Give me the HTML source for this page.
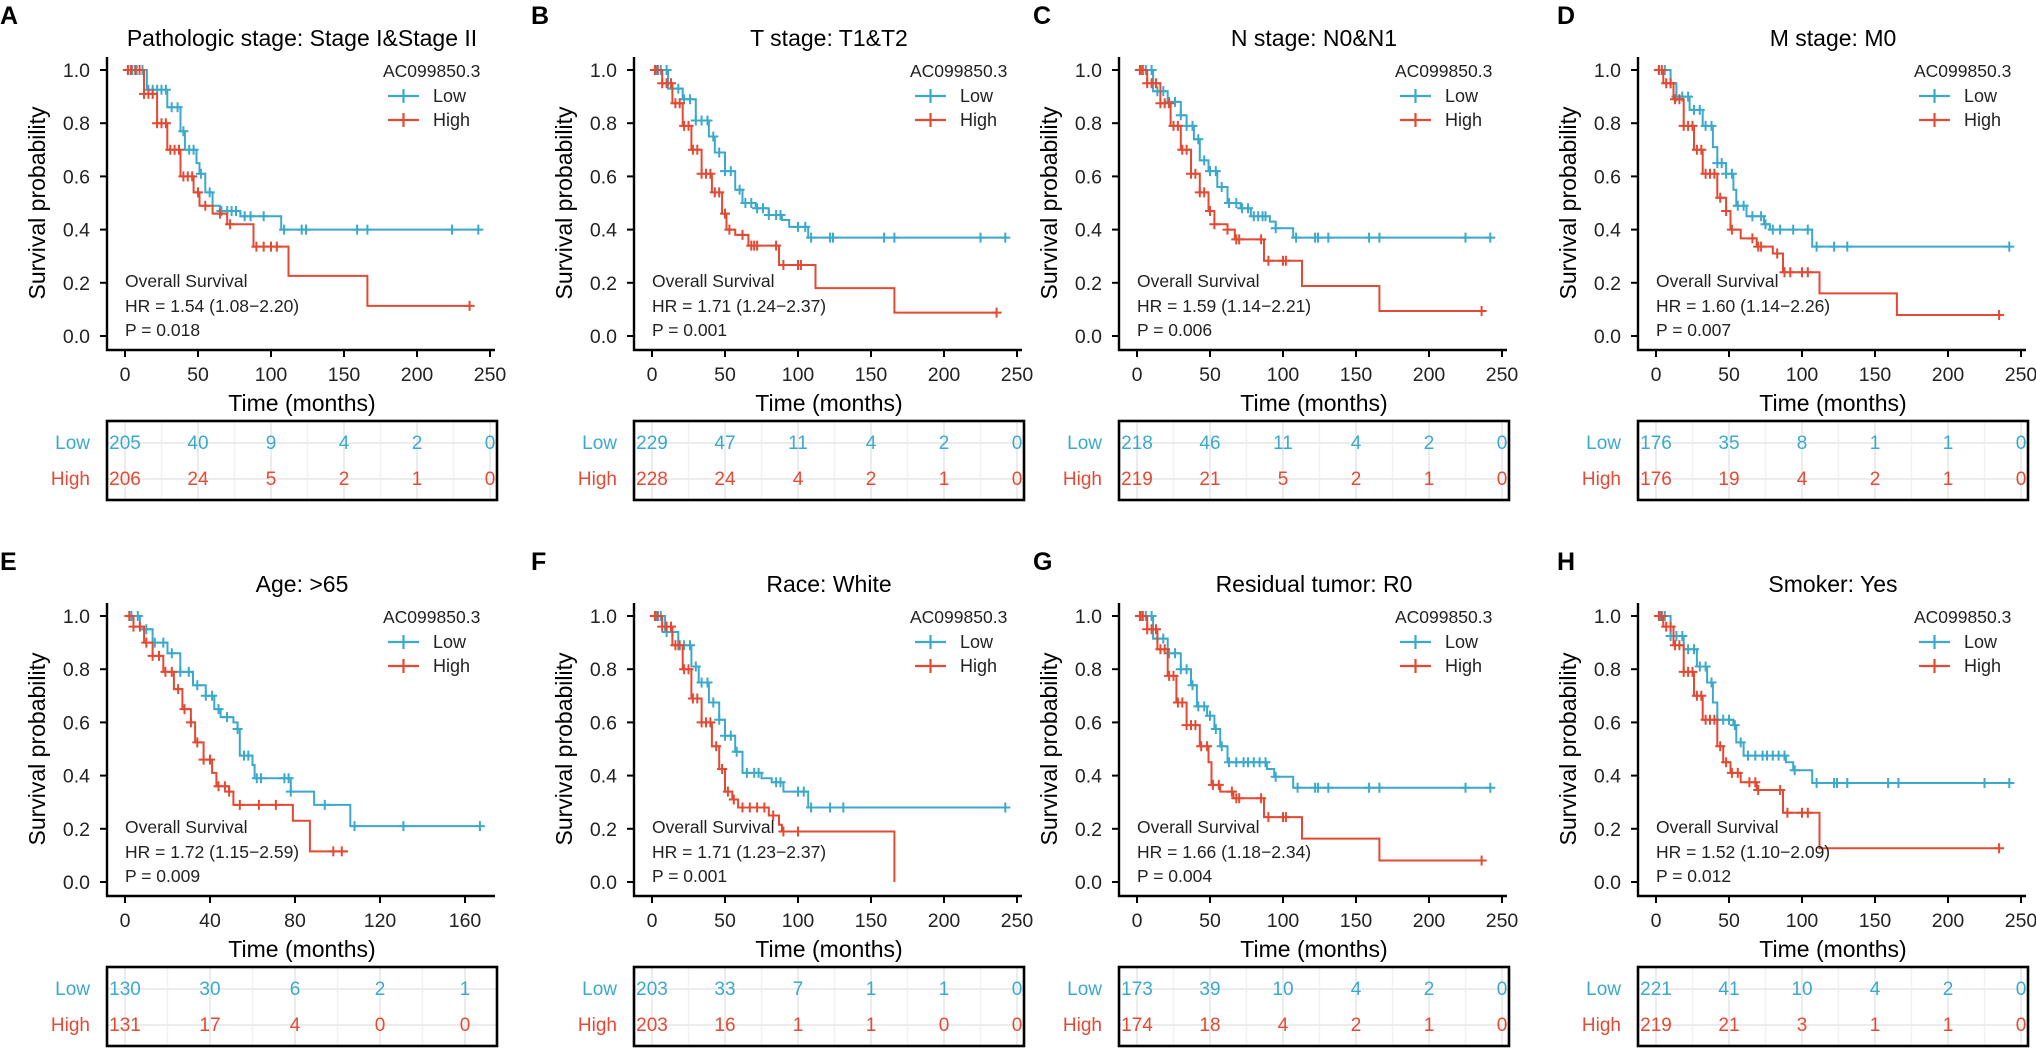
<!DOCTYPE html>
<html><head><meta charset="utf-8"><title>KM panels</title>
<style>
html,body{margin:0;padding:0;background:#fff;}
svg{display:block;font-family:"Liberation Sans",Arial,sans-serif;}
</style></head>
<body>
<svg id="fig" width="2036" height="1059" viewBox="0 0 2036 1059" xmlns="http://www.w3.org/2000/svg"></svg>
<script>
// ---------- data ----------
const panelTitles = ["Pathologic stage: Stage I&Stage II","T stage: T1&T2","N stage: N0&N1","M stage: M0","Age: >65","Race: White","Residual tumor: R0","Smoker: Yes"];
const panelLetters = ["A","B","C","D","E","F","G","H"];
const hrTexts = ["HR = 1.54 (1.08\u22122.20)","HR = 1.71 (1.24\u22122.37)","HR = 1.59 (1.14\u22122.21)","HR = 1.60 (1.14\u22122.26)","HR = 1.72 (1.15\u22122.59)","HR = 1.71 (1.23\u22122.37)","HR = 1.66 (1.18\u22122.34)","HR = 1.52 (1.10\u22122.09)"];
const pTexts = ["P = 0.018","P = 0.001","P = 0.006","P = 0.007","P = 0.009","P = 0.001","P = 0.004","P = 0.012"];
const xMaxes = [250,250,250,250,160,250,250,250];
const xTicksStd = [0,50,100,150,200,250];
const xTicksAge = [0,40,80,120,160];
const yTicks = [0,0.2,0.4,0.6,0.8,1.0];
const yTickLabels = ["0.0","0.2","0.4","0.6","0.8","1.0"];

// step knots [time, survival]
const lowSteps = [
 [[15,0.926],[29,0.86],[38,0.77],[41,0.70],[49,0.65],[51,0.61],[55,0.54],[60,0.49],[65,0.47],[79,0.45],[107,0.40],[243,0.40]],
 [[11,0.93],[21,0.89],[30,0.81],[39,0.75],[43,0.69],[50,0.62],[57,0.55],[62,0.50],[71,0.48],[80,0.455],[89,0.436],[94,0.41],[107,0.37],[243,0.37]],
 [[11,0.92],[21,0.88],[30,0.83],[34,0.79],[39,0.74],[43,0.66],[49,0.62],[55,0.56],[62,0.50],[71,0.48],[78,0.45],[91,0.43],[95,0.405],[107,0.37],[243,0.37]],
 [[10,0.95],[14,0.90],[23,0.85],[32,0.79],[39,0.71],[42,0.65],[48,0.61],[53,0.55],[55,0.49],[62,0.45],[74,0.42],[78,0.40],[107,0.336],[242,0.336]],
 [[7,0.95],[13,0.90],[20,0.86],[26,0.79],[32,0.74],[38,0.70],[42,0.65],[45,0.62],[51,0.60],[53,0.575],[54,0.475],[60,0.44],[61,0.39],[78,0.34],[89,0.29],[106,0.21],[167,0.21]],
 [[9,0.94],[18,0.89],[27,0.81],[32,0.75],[39,0.675],[46,0.61],[50,0.55],[57,0.49],[62,0.41],[75,0.39],[82,0.375],[90,0.34],[107,0.28],[243,0.28]],
 [[11,0.915],[21,0.86],[30,0.80],[37,0.74],[41,0.66],[48,0.625],[53,0.575],[57,0.51],[62,0.45],[89,0.425],[94,0.396],[107,0.354],[243,0.354]],
 [[10,0.925],[19,0.875],[28,0.81],[35,0.75],[39,0.675],[42,0.61],[53,0.59],[55,0.525],[60,0.475],[89,0.45],[94,0.42],[107,0.372],[242,0.372]]
];
const highSteps = [
 [[13,0.91],[22,0.80],[29,0.70],[38,0.60],[47,0.54],[51,0.49],[60,0.46],[70,0.42],[88,0.336],[112,0.226],[166,0.113],[236,0.113]],
 [[7,0.95],[14,0.875],[21,0.79],[27,0.70],[34,0.61],[41,0.54],[48,0.46],[51,0.40],[57,0.38],[66,0.34],[87,0.267],[112,0.18],[166,0.088],[236,0.088]],
 [[7,0.95],[16,0.875],[23,0.79],[30,0.70],[37,0.61],[43,0.54],[49,0.47],[53,0.42],[62,0.40],[67,0.363],[87,0.283],[113,0.188],[166,0.094],[236,0.094]],
 [[5,0.95],[12,0.89],[19,0.79],[26,0.70],[32,0.61],[42,0.52],[48,0.47],[51,0.40],[58,0.367],[69,0.336],[80,0.31],[87,0.24],[112,0.16],[165,0.079],[235,0.079]],
 [[4,0.96],[9,0.90],[13,0.85],[18,0.79],[23,0.725],[27,0.65],[31,0.60],[33,0.525],[37,0.46],[41,0.41],[43,0.36],[49,0.34],[51,0.29],[79,0.23],[87,0.115],[105,0.115]],
 [[7,0.96],[14,0.89],[21,0.80],[27,0.69],[34,0.60],[41,0.51],[46,0.425],[50,0.34],[55,0.31],[59,0.28],[80,0.25],[87,0.215],[89,0.19],[166,0.0]],
 [[7,0.95],[14,0.875],[21,0.775],[27,0.675],[34,0.59],[43,0.51],[49,0.45],[51,0.365],[57,0.34],[66,0.315],[87,0.244],[113,0.163],[166,0.081],[236,0.081]],
 [[5,0.96],[12,0.89],[19,0.79],[26,0.70],[32,0.61],[42,0.51],[46,0.45],[51,0.41],[58,0.375],[69,0.346],[87,0.26],[112,0.127],[235,0.127]]
];
// censor times
const lowCensors = [
 [2,5,8,12,16,19,22,25,28,32,36,40,44,47,52,58,66,70,73,76,82,86,95,109,121,124,159,166,224,242],
 [3,6,10,14,18,22,26,30,34,38,42,46,50,54,60,64,68,72,76,80,85,88,100,105,109,122,124,159,166,225,242],
 [3,6,10,14,18,22,26,30,34,38,42,46,50,54,58,63,68,72,76,80,83,86,88,95,109,122,124,131,159,166,225,242],
 [2,6,10,14,18,22,26,30,34,38,42,45,48,52,56,60,66,72,75,80,85,94,104,110,122,131,242],
 [3,6,10,14,18,22,26,30,34,38,41,44,48,53,56,58,62,64,75,77,78,94,108,131,167],
 [3,6,10,14,18,22,26,30,34,38,42,46,50,54,58,65,70,73,85,88,100,104,109,122,131,242],
 [3,6,10,14,18,22,26,30,34,38,42,46,50,54,58,63,68,73,76,80,84,88,95,110,122,124,131,159,166,225,242],
 [3,6,10,14,18,22,26,30,34,38,42,46,50,54,58,63,68,73,76,80,84,88,95,110,122,124,131,159,166,225,242]
];
const highCensors = [
 [2,4,7,10,13,16,19,22,25,28,31,34,37,40,43,46,50,55,65,72,90,95,100,104,236],
 [2,4,7,10,13,16,19,22,25,28,31,34,37,40,43,46,50,53,62,68,70,72,85,90,100,102,236],
 [2,4,7,10,13,16,19,22,25,28,31,34,37,40,43,46,50,53,62,68,70,85,90,100,102,236],
 [2,4,7,10,13,16,19,22,25,28,31,34,37,40,44,48,52,66,70,72,83,88,92,100,104,235],
 [2,4,7,10,13,16,19,22,25,28,31,34,37,40,44,47,49,54,63,71,98,102],
 [2,4,7,10,13,16,19,22,25,28,31,34,37,40,44,48,52,56,62,67,72,77,83,90,100],
 [2,4,7,10,13,16,19,22,25,28,31,34,37,40,44,48,52,56,65,68,70,85,90,100,102,236],
 [2,4,7,10,13,16,19,22,25,28,31,34,37,40,44,48,52,56,64,68,70,85,90,100,104,235]
];
// numbers at risk
const lowRisk = [[205,40,9,4,2,0],[229,47,11,4,2,0],[218,46,11,4,2,0],[176,35,8,1,1,0],[130,30,6,2,1],[203,33,7,1,1,0],[173,39,10,4,2,0],[221,41,10,4,2,0]];
const highRisk = [[206,24,5,2,1,0],[228,24,4,2,1,0],[219,21,5,2,1,0],[176,19,4,2,1,0],[131,17,4,0,0],[203,16,1,1,0,0],[174,18,4,2,1,0],[219,21,3,1,1,0]];

// ---------- layout ----------
const colX = [107, 634, 1119, 1638];
const rowDY = [0, 546];
const letterX = [0, 531, 1033, 1557];
const LOW = "#3BA9CB", HIGH = "#E34A33";
const NS = "http://www.w3.org/2000/svg";
const svg = document.getElementById("fig");

function mk(tag, attrs, parent, text){
  const e = document.createElementNS(NS, tag);
  for (const k in attrs) e.setAttribute(k, attrs[k]);
  if (text !== undefined) e.textContent = text;
  (parent || svg).appendChild(e);
  return e;
}
function survAt(steps, t){
  let s = 1;
  for (const [tt, ss] of steps){ if (tt <= t) s = ss; else break; }
  return s;
}

for (let p = 0; p < 8; p++){
  const X = colX[p % 4], dy = rowDY[Math.floor(p / 4)];
  const xmax = xMaxes[p];
  const xTicks = xmax === 160 ? xTicksAge : xTicksStd;
  const x0 = X + 18, xw = xmax === 160 ? 340 : 365;
  const xs = t => x0 + t / xmax * xw;
  const ys = s => dy + 336 - s * 266;

  const g = mk("g", {});
  
  

  const L = mk("text", {x: letterX[p % 4], y: dy + 24, "font-size": 25, "font-weight": "bold", fill: "#000"}, g, panelLetters[p]);
  
  

  const T = mk("text", {x: X + 195, y: dy + 46, "font-size": 23, "text-anchor": "middle", fill: "#000"}, g, panelTitles[p]);
  
  

  // axes
  const ax = mk("path", {d: `M${X} ${dy+57} V${dy+350} H${X+388}`, fill: "none", stroke: "#000", "stroke-width": 2.4}, g);
  
  
  yTicks.forEach((v, i) => {
    mk("line", {x1: X - 7, x2: X, y1: ys(v), y2: ys(v), stroke: "#000", "stroke-width": 2}, g);
    const tl = mk("text", {x: X - 17, y: ys(v) + 7, "font-size": 19.5, "text-anchor": "end", fill: "#222"}, g, yTickLabels[i]);
    
    
  });
  xTicks.forEach(v => {
    mk("line", {x1: xs(v), x2: xs(v), y1: dy + 350, y2: dy + 357, stroke: "#000", "stroke-width": 2}, g);
    const tl = mk("text", {x: xs(v), y: dy + 381, "font-size": 19.5, "text-anchor": "middle", fill: "#222"}, g, String(v));
    
    
  });
  const xt = mk("text", {x: X + 195, y: dy + 411, "font-size": 23, "text-anchor": "middle", fill: "#000"}, g, "Time (months)");
  
  
  const yt = mk("text", {x: 0, y: 0, "font-size": 23, "text-anchor": "middle", fill: "#000", transform: `translate(${X - 62},${dy + 203}) rotate(-90)`}, g, "Survival probability");
  
  

  // curves
  [[lowSteps[p], lowCensors[p], LOW, 'low'], [highSteps[p], highCensors[p], HIGH, 'high']].forEach(([steps, cens, col, nm]) => {
    let d = `M${xs(0)} ${ys(1)}`;
    steps.forEach(([t, s]) => { d += ` H${xs(t).toFixed(1)} V${ys(s).toFixed(1)}`; });
    const path = mk("path", {d, fill: "none", stroke: col, "stroke-width": 2}, g);
    
    
    let cd = "";
    cens.forEach(t => {
      const cx = xs(t), cy = ys(survAt(steps, t));
      cd += `M${(cx-5).toFixed(1)} ${cy.toFixed(1)} h10 M${cx.toFixed(1)} ${(cy-5).toFixed(1)} v10 `;
    });
    const cp = mk("path", {d: cd, fill: "none", stroke: col, "stroke-width": 2}, g);
    
    
  });

  // legend
  const lg = mk("g", {}, g);
  
  
  mk("text", {x: X + 276, y: dy + 77, "font-size": 17.5, fill: "#222"}, lg, "AC099850.3");
  [[LOW, "Low", 96], [HIGH, "High", 120]].forEach(([c, lab, yy]) => {
    const ent = mk("g", {}, lg);
    
    
    mk("path", {d: `M${X+281} ${dy+yy} h31 M${X+296.5} ${dy+yy-7} v14`, stroke: c, "stroke-width": 2.2, fill: "none"}, ent);
    mk("text", {x: X + 326, y: dy + yy + 6, "font-size": 18, fill: "#222"}, ent, lab);
  });

  // annotation
  const an = mk("g", {"font-size": 17.5, fill: "#222"}, g);
  
  
  mk("text", {x: X + 18, y: dy + 287}, an, "Overall Survival");
  mk("text", {x: X + 18, y: dy + 312}, an, hrTexts[p]);
  mk("text", {x: X + 18, y: dy + 336}, an, pTexts[p]);

  // risk table
  const rt = mk("g", {}, g);
  
  
  const step = xTicks[1] - xTicks[0];
  for (let i = 0; i < xTicks.length; i++){
    mk("line", {x1: xs(xTicks[i]), x2: xs(xTicks[i]), y1: dy + 421, y2: dy + 500, stroke: "#ececec", "stroke-width": 2}, rt);
    if (i < xTicks.length - 1) mk("line", {x1: xs(xTicks[i] + step/2), x2: xs(xTicks[i] + step/2), y1: dy + 421, y2: dy + 500, stroke: "#f2f2f2", "stroke-width": 1.5}, rt);
  }
  mk("line", {x1: X, x2: X + 390, y1: dy + 443, y2: dy + 443, stroke: "#ececec", "stroke-width": 2}, rt);
  mk("line", {x1: X, x2: X + 390, y1: dy + 479, y2: dy + 479, stroke: "#ececec", "stroke-width": 2}, rt);
  mk("rect", {x: X, y: dy + 421, width: 390, height: 79, fill: "none", stroke: "#000", "stroke-width": 2.6}, rt);
  mk("text", {x: X - 17, y: dy + 449, "font-size": 19, "text-anchor": "end", fill: LOW}, rt, "Low");
  mk("text", {x: X - 17, y: dy + 485, "font-size": 19, "text-anchor": "end", fill: HIGH}, rt, "High");
  xTicks.forEach((v, i) => {
    const a = mk("text", {x: xs(v), y: dy + 449, "font-size": 19, "text-anchor": "middle", fill: LOW}, rt, String(lowRisk[p][i]));
    
    
    const b = mk("text", {x: xs(v), y: dy + 485, "font-size": 19, "text-anchor": "middle", fill: HIGH}, rt, String(highRisk[p][i]));
    
    
  });
}
</script>
</body></html>
